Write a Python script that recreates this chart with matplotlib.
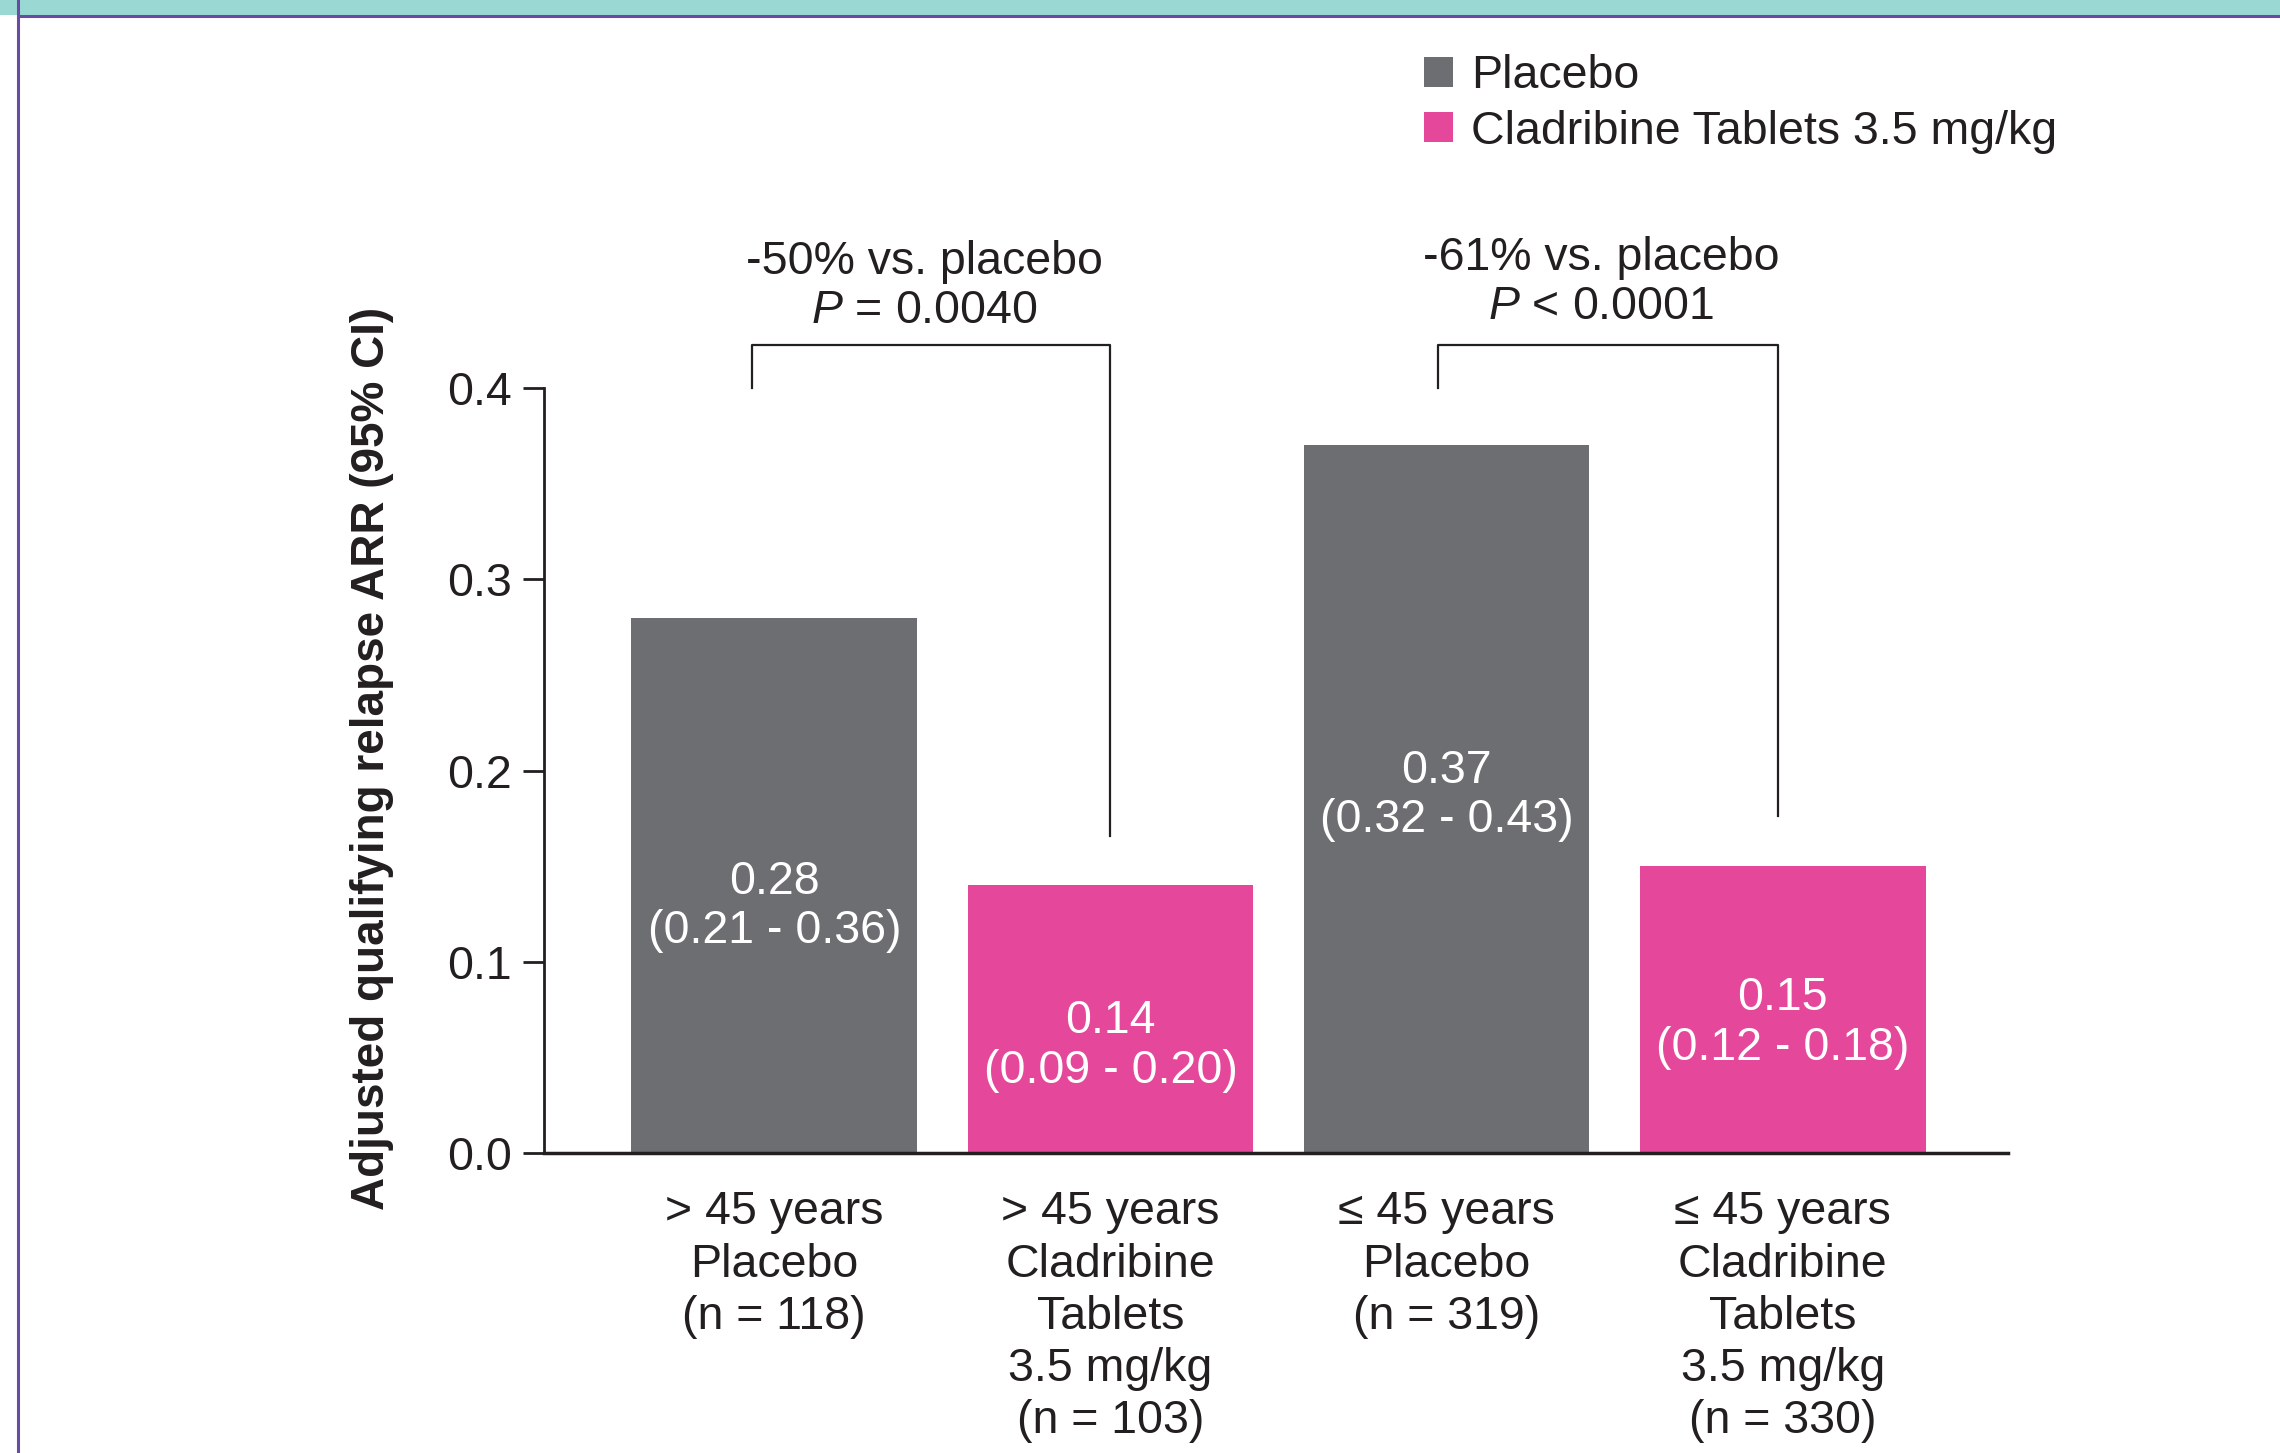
import matplotlib.pyplot as plt
import numpy as np
from matplotlib.lines import Line2D
from matplotlib.patches import Rectangle

plt.rcParams['font.family'] = ['Liberation Sans', 'DejaVu Sans']
plt.rcParams['mathtext.fontset'] = 'custom'
plt.rcParams['mathtext.rm'] = 'Liberation Sans'
plt.rcParams['mathtext.it'] = 'Liberation Sans:italic'

# ARR per subgroup
groups = ['> 45 years\nPlacebo\n(n = 118)',
          '> 45 years\nCladribine\nTablets\n3.5 mg/kg\n(n = 103)',
          '\u2264 45 years\nPlacebo\n(n = 319)',
          '\u2264 45 years\nCladribine\nTablets\n3.5 mg/kg\n(n = 330)']
arr = [0.28, 0.14, 0.37, 0.15]
ci_text = ['(0.21 - 0.36)', '(0.09 - 0.20)', '(0.32 - 0.43)', '(0.12 - 0.18)']
treatment = ['Placebo', 'Cladribine Tablets 3.5 mg/kg']
arm = [0, 1, 0, 1]
reduction = ['-50% vs. placebo', '-61% vs. placebo']
pvals = ['$P$ = 0.0040', '$P$ < 0.0001']

GREY = '#6d6e71'
PINK = '#e5489b'
INK = '#231f20'
colors = [GREY, PINK]
FS = 33.5
# nudge of the in-bar labels away from bar mid-height
label_nudge = [-0.011, -0.014, 0.002, -0.007]

fig = plt.figure(figsize=(22.8, 14.53), dpi=100)

# header band and frame lines
fig.patches.append(Rectangle((0, 1 - 14.5 / 1453), 1, 14.5 / 1453, transform=fig.transFigure,
                             facecolor='#9ad8d3', edgecolor='none', zorder=0))
fig.lines.append(Line2D([18 / 2280, 1], [1 - 16 / 1453, 1 - 16 / 1453], transform=fig.transFigure,
                        color='#6a4ba3', lw=2.2))
fig.lines.append(Line2D([18 / 2280, 18 / 2280], [0, 1], transform=fig.transFigure,
                        color='#6a4ba3', lw=2.2))

ax = fig.add_axes([544 / 2280, 1 - 1153 / 1453, (2008 - 544) / 2280, (1153 - 388) / 1453])

x = np.arange(len(arr))
bars = ax.bar(x, arr, width=0.85, color=[colors[a] for a in arm], zorder=2)

ax.set_xlim(-0.685, 3.67)
ax.set_ylim(0, 0.4)
ax.set_yticks([0.0, 0.1, 0.2, 0.3, 0.4])
ax.set_yticklabels(['0.0', '0.1', '0.2', '0.3', '0.4'], fontsize=FS, color=INK)
ax.tick_params(axis='y', direction='out', length=15, width=2, color=INK, pad=8)
ax.set_xticks(x)
ax.set_xticklabels(groups, fontsize=FS, color=INK, linespacing=1.24)
ax.tick_params(axis='x', length=0, pad=27)
for s in ['top', 'right']:
    ax.spines[s].set_visible(False)
ax.spines['left'].set_linewidth(2)
ax.spines['bottom'].set_linewidth(2.5)
ax.spines['left'].set_color(INK)
ax.spines['bottom'].set_color(INK)

ax.set_ylabel('Adjusted qualifying relapse ARR (95% CI)', fontsize=33, fontweight='bold',
              color=INK)
ax.yaxis.set_label_coords(-0.1025, 0.516)

# value + CI inside bars
for xi, v, ci, dy in zip(x, arr, ci_text, label_nudge):
    ax.text(xi, v / 2 + dy, f'{v:.2f}\n{ci}', ha='center', va='center',
            fontsize=FS, color='white', linespacing=1.16)

# comparison brackets
brackets = [(0, 1), (2, 3)]
left_off = [-0.065, -0.027]
for k, (a, b) in enumerate(brackets):
    xl = x[a] + left_off[k]
    xr = x[b] - 0.015 * k
    top = 0.4225
    ax.plot([xl, xl, xr, xr], [0.40, top, top, arr[b] + 0.026],
            color=INK, lw=1.6, clip_on=False)
    xm = (xl + xr) / 2 - 0.02
    ax.text(xm, 0.468 - 0.002 * (1 - k), reduction[k], ha='center', va='center',
            fontsize=FS, color=INK)
    ax.text(xm, 0.4425 - 0.002 * (1 - k), pvals[k], ha='center', va='center',
            fontsize=FS, color=INK)

leg = fig.legend([bars[0], bars[1]], treatment, loc='upper left',
                 bbox_to_anchor=(1424 / 2280, 1 - 54 / 1453), frameon=False,
                 fontsize=FS, handlelength=0.62, handleheight=0.62, handletextpad=0.4,
                 labelspacing=0.25, borderpad=0, borderaxespad=0)
for t in leg.get_texts():
    t.set_color(INK)

plt.savefig('out.png', dpi=100)
